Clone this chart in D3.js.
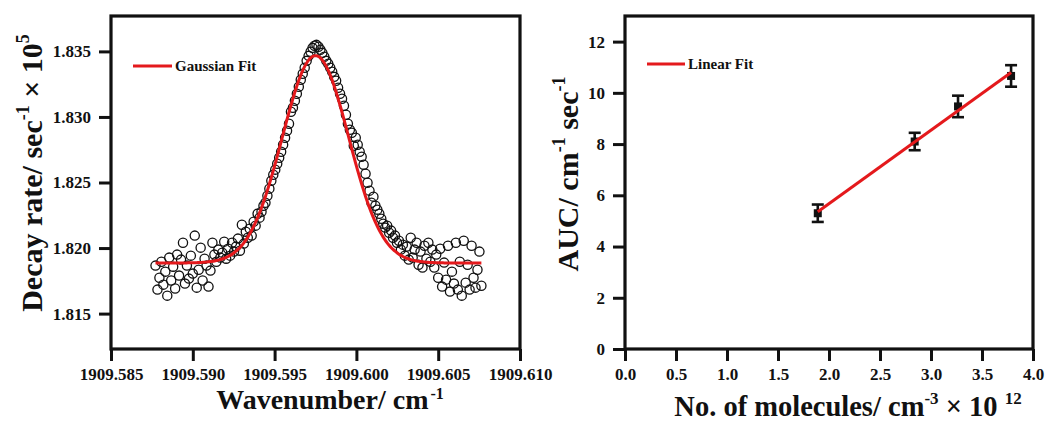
<!DOCTYPE html>
<meta charset="utf-8">
<style>
  body { margin: 0; background: #fff; }
  text { font-family: "Liberation Serif", "Times New Roman", serif; font-weight: bold; fill: #111; }
</style>
<svg width="1048" height="421"></svg>
<script src="https://d3js.org/d3.v7.min.js"></script>
<script>
// ---- left panel: cavity ring-down scan ----
var scanWavenumber = [
  1909.58772, 1909.58784, 1909.58796, 1909.58808, 1909.58820, 1909.58832, 1909.58844, 1909.58856, 1909.58868, 1909.58880,
  1909.58892, 1909.58904, 1909.58916, 1909.58928, 1909.58940, 1909.58952, 1909.58964, 1909.58976, 1909.58988, 1909.59000,
  1909.59012, 1909.59024, 1909.59036, 1909.59048, 1909.59060, 1909.59072, 1909.59084, 1909.59096, 1909.59108, 1909.59120,
  1909.59132, 1909.59144, 1909.59156, 1909.59168, 1909.59180, 1909.59192, 1909.59204, 1909.59216, 1909.59228, 1909.59240,
  1909.59252, 1909.59264, 1909.59276, 1909.59288, 1909.59300, 1909.59312, 1909.59324, 1909.59336, 1909.59348, 1909.59360,
  1909.59372, 1909.59384, 1909.59396, 1909.59408, 1909.59420, 1909.59432, 1909.59444, 1909.59456, 1909.59468, 1909.59480,
  1909.59492, 1909.59504, 1909.59516, 1909.59528, 1909.59540, 1909.59552, 1909.59564, 1909.59576, 1909.59588, 1909.59600,
  1909.59612, 1909.59624, 1909.59636, 1909.59648, 1909.59660, 1909.59672, 1909.59684, 1909.59696, 1909.59708, 1909.59720,
  1909.59732, 1909.59744, 1909.59756, 1909.59768, 1909.59780, 1909.59792, 1909.59804, 1909.59816, 1909.59828, 1909.59840,
  1909.59852, 1909.59864, 1909.59876, 1909.59888, 1909.59900, 1909.59912, 1909.59924, 1909.59936, 1909.59948, 1909.59960,
  1909.59972, 1909.59984, 1909.59996, 1909.60008, 1909.60020, 1909.60032, 1909.60044, 1909.60056, 1909.60068, 1909.60080,
  1909.60092, 1909.60104, 1909.60116, 1909.60128, 1909.60140, 1909.60152, 1909.60164, 1909.60176, 1909.60188, 1909.60200,
  1909.60212, 1909.60224, 1909.60236, 1909.60248, 1909.60260, 1909.60272, 1909.60284, 1909.60296, 1909.60308, 1909.60320,
  1909.60332, 1909.60344, 1909.60356, 1909.60368, 1909.60380, 1909.60392, 1909.60404, 1909.60416, 1909.60428, 1909.60440,
  1909.60452, 1909.60464, 1909.60476, 1909.60488, 1909.60500, 1909.60512, 1909.60524, 1909.60536, 1909.60548, 1909.60560,
  1909.60572, 1909.60584, 1909.60596, 1909.60608, 1909.60620, 1909.60632, 1909.60644, 1909.60656, 1909.60668, 1909.60680,
  1909.60692, 1909.60704, 1909.60716, 1909.60728, 1909.60740, 1909.60752, 1909.60764
];
var scanDecay = [
  1.81866, 1.81683, 1.81774, 1.81896, 1.81721, 1.81820, 1.81637, 1.81927, 1.81752, 1.81858,
  1.81691, 1.81950, 1.81790, 1.81912, 1.82041, 1.81729, 1.81866, 1.81767, 1.81942, 1.81805,
  1.82095, 1.81698, 1.81835, 1.82003, 1.81752, 1.81919, 1.81866, 1.81706, 1.81828, 1.82041,
  1.81950, 1.81896, 1.81988, 1.81927, 1.81965, 1.82049, 1.81919, 1.81995, 1.81942, 1.82041,
  1.81973, 1.82011, 1.82072, 1.81980, 1.82178, 1.82034, 1.82125, 1.82079, 1.82148, 1.82095,
  1.82201, 1.82171, 1.82262, 1.82232, 1.82277, 1.82323, 1.82346, 1.82399, 1.82453, 1.82514,
  1.82559, 1.82598, 1.82643, 1.82689, 1.82735, 1.82788, 1.82841, 1.82895, 1.82948, 1.83040,
  1.83070, 1.83123, 1.83177, 1.83230, 1.83284, 1.83329, 1.83375, 1.83428, 1.83466, 1.83497,
  1.83527, 1.83543, 1.83550, 1.83535, 1.83512, 1.83489, 1.83459, 1.83428, 1.83406, 1.83375,
  1.83345, 1.83306, 1.83276, 1.83223, 1.83177, 1.83139, 1.83085, 1.83017, 1.82948, 1.82902,
  1.82880, 1.82780, 1.82841, 1.82788, 1.82735, 1.82697, 1.82636, 1.82567, 1.82498, 1.82438,
  1.82346, 1.82392, 1.82323, 1.82293, 1.82262, 1.82224, 1.82186, 1.82156, 1.82171, 1.82117,
  1.82133, 1.82079, 1.82095, 1.82041, 1.82056, 1.81988, 1.82026, 1.81942, 1.82011, 1.81912,
  1.82079, 1.81927, 1.81988, 1.82041, 1.81873, 1.81973, 1.81851, 1.82018, 1.81919, 1.82041,
  1.81896, 1.81988, 1.81851, 1.81950, 1.81774, 1.81995, 1.81706, 1.81889, 1.81759, 1.82018,
  1.81668, 1.81820, 1.81729, 1.82041, 1.81683, 1.81896, 1.81637, 1.82056, 1.81736, 1.81873,
  1.81683, 1.82018, 1.81774, 1.81698, 1.81835, 1.81973, 1.81713
];
// Gaussian fit result (decay rate x 1e5 vs wavenumber)
var gaussBaseline = 1.81886;
var gaussAmplitude = 0.01581;
var gaussCenter = 1909.5975;
var gaussSigma = 0.00203;

var leftXTicks = [1909.585, 1909.590, 1909.595, 1909.600, 1909.605, 1909.610];
var leftYTicks = [1.815, 1.820, 1.825, 1.830, 1.835];

// ---- right panel: area under curve vs number density ----
var molecules = [1.89, 2.84, 3.265, 3.785];
var auc = [5.30, 8.10, 9.47, 10.66];
var aucError = [0.34, 0.34, 0.42, 0.42];

var rightXTicks = [0, 0.5, 1.0, 1.5, 2.0, 2.5, 3.0, 3.5, 4.0];
var rightYTicks = [0, 2, 4, 6, 8, 10, 12];

var red = "#e4191c";
var svg = d3.select("svg");

function styleAxis(g) {
  g.select(".domain").remove();
  g.selectAll(".tick line").attr("stroke", "#111").attr("stroke-width", 3);
  g.selectAll(".tick text").attr("font-size", "17px").attr("fill", "#111")
    .attr("font-family", "Liberation Serif, serif").attr("font-weight", "bold");
}

// ======== left panel ========
var x1 = d3.scaleLinear().domain([1909.585, 1909.610]).range([111, 520]);
var y1 = d3.scaleLinear().domain([1.8123, 1.8377]).range([349, 16]);

svg.append("g")
  .attr("transform", "translate(0,349)")
  .call(d3.axisBottom(x1).tickValues(leftXTicks).tickFormat(d3.format(".3f")).tickSize(12).tickPadding(7))
  .call(styleAxis);

svg.append("g")
  .attr("transform", "translate(111,0)")
  .call(d3.axisLeft(y1).tickValues(leftYTicks).tickFormat(d3.format(".3f")).tickSize(12).tickPadding(8))
  .call(styleAxis);

var scan = scanWavenumber.map(function(w, i) { return { w: w, v: scanDecay[i] }; });

svg.append("g").selectAll("circle")
  .data(scan)
  .enter().append("circle")
    .attr("cx", function(d) { return x1(d.w); })
    .attr("cy", function(d) { return y1(d.v); })
    .attr("r", 4.6)
    .attr("fill", "none")
    .attr("stroke", "#111")
    .attr("stroke-width", 1.3);

var gaussLine = d3.line()
  .x(function(w) { return x1(w); })
  .y(function(w) {
    var d = w - gaussCenter;
    return y1(gaussBaseline + gaussAmplitude * Math.exp(-d * d / (2 * gaussSigma * gaussSigma)));
  })
  .curve(d3.curveMonotoneX);

svg.append("path")
  .datum(scanWavenumber)
  .attr("d", gaussLine)
  .attr("fill", "none")
  .attr("stroke", red)
  .attr("stroke-width", 3);

svg.append("rect")
  .attr("x", 111).attr("y", 16)
  .attr("width", 409).attr("height", 333)
  .attr("fill", "none").attr("stroke", "#111").attr("stroke-width", 3.2);

// legend
svg.append("line")
  .attr("x1", 133).attr("x2", 172).attr("y1", 66).attr("y2", 66)
  .attr("stroke", red).attr("stroke-width", 3);
svg.append("text")
  .attr("x", 175).attr("y", 71)
  .attr("font-size", "15px")
  .text("Gaussian Fit");

// axis titles
var t1 = svg.append("text")
  .attr("x", 330).attr("y", 409)
  .attr("text-anchor", "middle")
  .attr("font-size", "28px");
t1.append("tspan").text("Wavenumber/ cm");
t1.append("tspan").attr("dy", -10).attr("dx", 2).attr("font-size", "16px").text("-1");

var t2 = svg.append("text")
  .attr("transform", "translate(42,173) rotate(-90)")
  .attr("text-anchor", "middle")
  .attr("font-size", "30px");
t2.append("tspan").text("Decay rate/ sec");
t2.append("tspan").attr("dy", -13).attr("font-size", "18px").text("-1");
t2.append("tspan").attr("dy", 13).text(" \u00d7 10");
t2.append("tspan").attr("dy", -13).attr("font-size", "18px").text("5");

// ======== right panel ========
var x2 = d3.scaleLinear().domain([0, 4]).range([625, 1033]);
var y2 = d3.scaleLinear().domain([0, 13]).range([349, 16]);

svg.append("g")
  .attr("transform", "translate(0,349)")
  .call(d3.axisBottom(x2).tickValues(rightXTicks).tickFormat(d3.format(".1f")).tickSize(12).tickPadding(7))
  .call(styleAxis);

svg.append("g")
  .attr("transform", "translate(625,0)")
  .call(d3.axisLeft(y2).tickValues(rightYTicks).tickFormat(d3.format("d")).tickSize(12).tickPadding(8))
  .call(styleAxis);

var pts = molecules.map(function(m, i) { return { x: m, y: auc[i], e: aucError[i] }; });

// least-squares linear fit through the points
var mx = d3.mean(molecules), my = d3.mean(auc);
var sxy = d3.sum(pts, function(d) { return (d.x - mx) * (d.y - my); });
var sxx = d3.sum(pts, function(d) { return (d.x - mx) * (d.x - mx); });
var slope = sxy / sxx, intercept = my - slope * mx;
var xExt = d3.extent(molecules);

var bars = svg.append("g").selectAll("g")
  .data(pts)
  .enter().append("g")
    .attr("stroke", "#111")
    .attr("stroke-width", 2.6);

bars.append("line")
  .attr("x1", function(d) { return x2(d.x); })
  .attr("x2", function(d) { return x2(d.x); })
  .attr("y1", function(d) { return y2(d.y - d.e); })
  .attr("y2", function(d) { return y2(d.y + d.e); });
bars.append("line")
  .attr("x1", function(d) { return x2(d.x) - 6; })
  .attr("x2", function(d) { return x2(d.x) + 6; })
  .attr("y1", function(d) { return y2(d.y + d.e); })
  .attr("y2", function(d) { return y2(d.y + d.e); });
bars.append("line")
  .attr("x1", function(d) { return x2(d.x) - 6; })
  .attr("x2", function(d) { return x2(d.x) + 6; })
  .attr("y1", function(d) { return y2(d.y - d.e); })
  .attr("y2", function(d) { return y2(d.y - d.e); });
bars.append("rect")
  .attr("x", function(d) { return x2(d.x) - 4; })
  .attr("y", function(d) { return y2(d.y) - 4; })
  .attr("width", 8).attr("height", 8)
  .attr("fill", "#111").attr("stroke", "none");

svg.append("line")
  .attr("x1", x2(xExt[0])).attr("y1", y2(intercept + slope * xExt[0]))
  .attr("x2", x2(xExt[1])).attr("y2", y2(intercept + slope * xExt[1]))
  .attr("stroke", red).attr("stroke-width", 3);

svg.append("rect")
  .attr("x", 625).attr("y", 16)
  .attr("width", 408).attr("height", 333)
  .attr("fill", "none").attr("stroke", "#111").attr("stroke-width", 3.2);

svg.append("line")
  .attr("x1", 647).attr("x2", 685).attr("y1", 64).attr("y2", 64)
  .attr("stroke", red).attr("stroke-width", 3);
svg.append("text")
  .attr("x", 688).attr("y", 69)
  .attr("font-size", "15px")
  .text("Linear Fit");

var t3 = svg.append("text")
  .attr("x", 848).attr("y", 416)
  .attr("text-anchor", "middle")
  .attr("font-size", "28.5px");
t3.append("tspan").text("No. of molecules/ cm");
t3.append("tspan").attr("dy", -12).attr("font-size", "17px").text("-3");
t3.append("tspan").attr("dy", 12).text(" \u00d7 10 ");
t3.append("tspan").attr("dy", -12).attr("font-size", "17px").text("12");

var t4 = svg.append("text")
  .attr("transform", "translate(578,174) rotate(-90)")
  .attr("text-anchor", "middle")
  .attr("font-size", "30px");
t4.append("tspan").text("AUC/ cm");
t4.append("tspan").attr("dy", -13).attr("font-size", "18px").text("-1");
t4.append("tspan").attr("dy", 13).text(" sec");
t4.append("tspan").attr("dy", -13).attr("font-size", "18px").text("-1");
</script>
